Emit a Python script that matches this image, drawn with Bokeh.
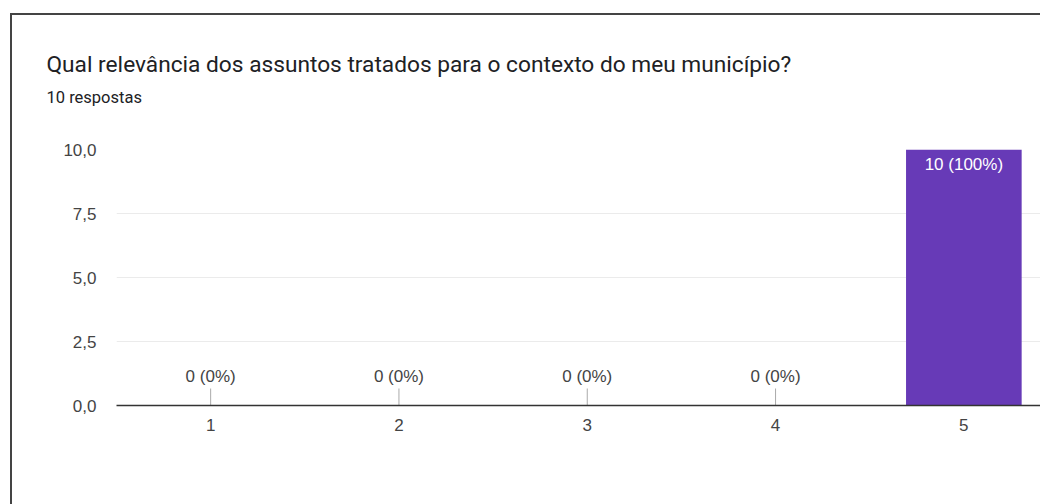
from bokeh.plotting import figure
from bokeh.models import FixedTicker, ColumnDataSource, Range1d, Title
from bokeh.layouts import column
from bokeh.core.properties import value
from bokeh.embed import file_html
from bokeh.resources import INLINE

# ---- data ----
title_text = "Qual relevância dos assuntos tratados para o contexto do meu município?"
subtitle_text = "10 respostas"
categories = ["1", "2", "3", "4", "5"]
counts = [0, 0, 0, 0, 10]
total = 10
y_ticks = [0, 2.5, 5, 7.5, 10]
y_tick_labels = ["0,0", "2,5", "5,0", "7,5", "10,0"]

TFONT = "Roboto"
FONT = "Liberation Sans"
BAR_COLOR = "#673ab7"

# card offsets (page coords)
CX, CY, BW = 10, 13, 2
W, H = 1040 - CX - BW, 504 - CY - BW
FL = 116 - CX - BW
FT = 149 - CY - BW
FB = 405 - CY - BW
CAT_W = 188.3

xs = [i + 1 for i in range(len(categories))]
labels = ["%d (%d%%)" % (c, round(100 * c / total)) for c in counts]

p = figure(width=W, height=H, output_backend="svg", toolbar_location=None,
           x_range=Range1d(0.5, 0.5 + (W - FL) / CAT_W), y_range=Range1d(0, 10))
p.min_border_left = FL
p.min_border_right = 0
p.min_border_top = FT
p.min_border_bottom = H - FB
p.outline_line_color = None
p.background_fill_color = "white"
p.border_fill_color = "white"

# bars
src = ColumnDataSource(dict(x=xs, top=counts, label=labels))
p.vbar(x="x", top="top", width=0.614, source=src, fill_color=BAR_COLOR, line_color=None)

# labels
nz = [i for i, c in enumerate(counts) if c > 0]
z = [i for i, c in enumerate(counts) if c == 0]
src_nz = ColumnDataSource(dict(x=[xs[i] for i in nz], y=[counts[i] for i in nz],
                               label=[labels[i] for i in nz]))
src_z = ColumnDataSource(dict(x=[xs[i] for i in z], y=[counts[i] for i in z],
                              label=[labels[i] for i in z]))
p.text(x="x", y="y", text="label", source=src_nz, text_color="white",
       text_font=value(FONT), text_font_size="17px", text_align="center",
       text_baseline="top", y_offset=5)
p.ray(x="x", y="y", length=17, length_units="screen", angle=1.5707963,
      source=src_z, line_color="#aaaaaa", line_width=1)
p.text(x="x", y="y", text="label", source=src_z, text_color="#444444",
       text_font=value(FONT), text_font_size="17px", text_align="center",
       text_baseline="bottom", y_offset=-20)

# axes
p.xaxis.ticker = FixedTicker(ticks=xs)
p.xaxis.major_label_overrides = {x: c for x, c in zip(xs, categories)}
p.xaxis.axis_line_color = "#333333"
p.xaxis.axis_line_width = 1.5
p.xaxis.major_tick_line_color = None
p.xaxis.minor_tick_line_color = None
p.xaxis.major_label_standoff = 7
p.xaxis.major_label_text_font = FONT
p.xaxis.major_label_text_font_size = "17px"
p.xaxis.major_label_text_color = "#444444"

p.yaxis.ticker = FixedTicker(ticks=y_ticks)
p.yaxis.major_label_overrides = {t: l for t, l in zip(y_ticks, y_tick_labels)}
p.yaxis.axis_line_color = None
p.yaxis.major_tick_line_color = None
p.yaxis.minor_tick_line_color = None
p.yaxis.major_label_standoff = 14
p.yaxis.major_label_text_font = FONT
p.yaxis.major_label_text_font_size = "17px"
p.yaxis.major_label_text_color = "#444444"

p.xgrid.grid_line_color = None
p.ygrid.grid_line_color = "#ebebeb"
p.ygrid.grid_line_width = 1

# titles (added "above": first added is closest to the plot)
p.add_layout(Title(text=subtitle_text, text_font=TFONT, text_font_size="16.5px",
                   text_font_style="normal", text_color="#202124", align="left",
                   offset=-(FL - (46 - CX - BW)), standoff=85), "above")
p.add_layout(Title(text=title_text, text_font=TFONT, text_font_size="22.7px",
                   text_font_style="normal", text_color="#202124", align="left",
                   offset=-(FL - (46 - CX - BW)), standoff=-68), "above")

root = column(p, margin=(CY, 0, 0, CX),
              styles={"border-top": "%dpx solid #444444" % BW,
                      "border-left": "%dpx solid #444444" % BW})

open("out.html", "w").write(file_html(root, INLINE))
